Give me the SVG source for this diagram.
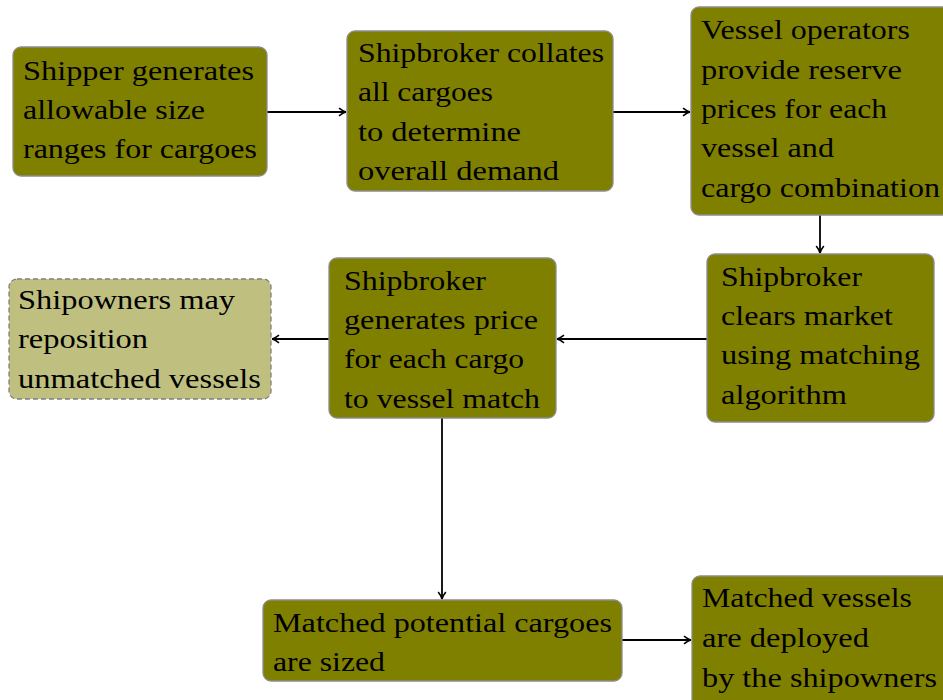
<svg xmlns="http://www.w3.org/2000/svg" width="943" height="700" viewBox="0 0 943 700">
<style>
.n{fill:#808000;stroke:#8c8c8c;stroke-width:1.3}
.d{fill:#bfbf80;stroke:#808080;stroke-width:1.3;stroke-dasharray:5 3}
text{font-family:"Liberation Serif","DejaVu Serif",serif;font-size:27.5px;fill:#000}
.c{stroke:#000;stroke-width:1.8;fill:none}
</style>
<defs>
<marker id="ah" markerWidth="10" markerHeight="10" refX="8" refY="5" orient="auto" markerUnits="userSpaceOnUse">
<path d="M1,1.2 Q5,4.4 8,5 Q5,5.6 1,8.8" fill="none" stroke="#000" stroke-width="1.6"/>
</marker>
</defs>
<g id="connectors">
<line class="c" x1="267" y1="112" x2="346" y2="112" marker-end="url(#ah)"/>
<line class="c" x1="613" y1="112" x2="690" y2="112" marker-end="url(#ah)"/>
<line class="c" x1="820" y1="215" x2="820" y2="253" marker-end="url(#ah)"/>
<line class="c" x1="707" y1="339" x2="557" y2="339" marker-end="url(#ah)"/>
<line class="c" x1="329" y1="339" x2="272" y2="339" marker-end="url(#ah)"/>
<line class="c" x1="442" y1="418" x2="442" y2="599" marker-end="url(#ah)"/>
<line class="c" x1="622" y1="640" x2="691" y2="640" marker-end="url(#ah)"/>
</g>
<g id="n1">
<rect class="n" x="13" y="47" width="254" height="129" rx="8"/>
<text x="23" y="80" textLength="231" lengthAdjust="spacingAndGlyphs">Shipper generates</text>
<text x="23" y="119" textLength="182" lengthAdjust="spacingAndGlyphs">allowable size</text>
<text x="23" y="158" textLength="234" lengthAdjust="spacingAndGlyphs">ranges for cargoes</text>
</g>
<g id="n2">
<rect class="n" x="347" y="31" width="266" height="160" rx="8"/>
<text x="358" y="62" textLength="246" lengthAdjust="spacingAndGlyphs">Shipbroker collates</text>
<text x="358" y="101" textLength="135" lengthAdjust="spacingAndGlyphs">all cargoes</text>
<text x="358" y="141" textLength="163" lengthAdjust="spacingAndGlyphs">to determine</text>
<text x="358" y="180" textLength="201" lengthAdjust="spacingAndGlyphs">overall demand</text>
</g>
<g id="n3">
<rect class="n" x="691" y="7" width="262" height="208" rx="8"/>
<text x="701" y="39" textLength="209" lengthAdjust="spacingAndGlyphs">Vessel operators</text>
<text x="701" y="79" textLength="201" lengthAdjust="spacingAndGlyphs">provide reserve</text>
<text x="701" y="118" textLength="186" lengthAdjust="spacingAndGlyphs">prices for each</text>
<text x="701" y="157" textLength="133" lengthAdjust="spacingAndGlyphs">vessel and</text>
<text x="701" y="197" textLength="239" lengthAdjust="spacingAndGlyphs">cargo combination</text>
</g>
<g id="n4">
<rect class="n" x="707" y="254" width="227" height="168" rx="8"/>
<text x="721" y="286" textLength="141" lengthAdjust="spacingAndGlyphs">Shipbroker</text>
<text x="721" y="325" textLength="172" lengthAdjust="spacingAndGlyphs">clears market</text>
<text x="721" y="364" textLength="199" lengthAdjust="spacingAndGlyphs">using matching</text>
<text x="721" y="404" textLength="126" lengthAdjust="spacingAndGlyphs">algorithm</text>
</g>
<g id="n5">
<rect class="n" x="329" y="258" width="227" height="160" rx="8"/>
<text x="344" y="290" textLength="142" lengthAdjust="spacingAndGlyphs">Shipbroker</text>
<text x="344" y="329" textLength="194" lengthAdjust="spacingAndGlyphs">generates price</text>
<text x="344" y="368" textLength="180" lengthAdjust="spacingAndGlyphs">for each cargo</text>
<text x="344" y="408" textLength="196" lengthAdjust="spacingAndGlyphs">to vessel match</text>
</g>
<g id="n6">
<rect class="d" x="9" y="279" width="262" height="120" rx="8"/>
<text x="18" y="309" textLength="217" lengthAdjust="spacingAndGlyphs">Shipowners may</text>
<text x="18" y="348" textLength="130" lengthAdjust="spacingAndGlyphs">reposition</text>
<text x="18" y="388" textLength="243" lengthAdjust="spacingAndGlyphs">unmatched vessels</text>
</g>
<g id="n7">
<rect class="n" x="263" y="600" width="359" height="81" rx="8"/>
<text x="273" y="632" textLength="339" lengthAdjust="spacingAndGlyphs">Matched potential cargoes</text>
<text x="273" y="671" textLength="112" lengthAdjust="spacingAndGlyphs">are sized</text>
</g>
<g id="n8">
<rect class="n" x="692" y="576" width="262" height="140" rx="8"/>
<text x="702" y="607" textLength="210" lengthAdjust="spacingAndGlyphs">Matched vessels</text>
<text x="702" y="647" textLength="167" lengthAdjust="spacingAndGlyphs">are deployed</text>
<text x="702" y="687" textLength="235" lengthAdjust="spacingAndGlyphs">by the shipowners</text>
</g>
</svg>
